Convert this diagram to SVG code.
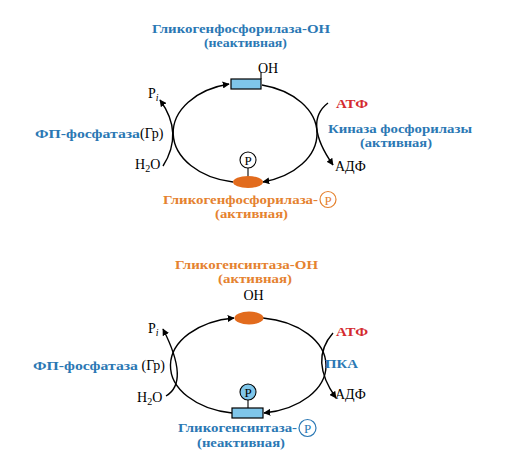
<svg xmlns="http://www.w3.org/2000/svg" width="530" height="470" viewBox="0 0 530 470">
<style>
.t{font-family:"Liberation Serif","DejaVu Serif","Times New Roman",serif;font-size:14px;fill:#000}
.b{font-weight:bold;font-size:12.5px}
.blue{fill:#2b78b4}
.or{fill:#e5822f}
.red{fill:#d42a2e}
.arc{fill:none;stroke:#000;stroke-width:1.4}
.rect{fill:#7fc6ea;stroke:#000;stroke-width:1.2}
.ell{fill:#e26b1d;stroke:none}
.pc{fill:#fff;stroke:#000;stroke-width:1.1}
.pcb{fill:#7fc6ea;stroke:#000;stroke-width:1.1}
.pt{font-family:"Liberation Serif","DejaVu Serif","Times New Roman",serif;font-size:13px;text-anchor:middle}
</style>
<defs>
<marker id="ah" viewBox="0 0 10 10" refX="9" refY="5" markerWidth="7" markerHeight="7" orient="auto" markerUnits="userSpaceOnUse">
<path d="M0,0 L10,5 L0,10 z" fill="#000"/>
</marker>
</defs>
<rect width="530" height="470" fill="#fff"/>

<g id="connectors">
<path class="arc" d="M233,182 A72,50 0 0 1 229,84" marker-end="url(#ah)"/>
<path class="arc" d="M262,85 A72,50 0 0 1 263,182" marker-end="url(#ah)"/>
<path class="arc" d="M163,166 Q184,133 160,100" marker-end="url(#ah)"/>
<path class="arc" d="M328,103 Q303,122 333,165" marker-end="url(#ah)"/>
<path class="arc" d="M232,413 A73,48 0 0 1 234,318" marker-end="url(#ah)"/>
<path class="arc" d="M263,318 A73,48 0 0 1 264,413" marker-end="url(#ah)"/>
<path class="arc" d="M166,396 Q190,382 163,329" marker-end="url(#ah)"/>
<path class="arc" d="M333,333 Q309,360 336,398" marker-end="url(#ah)"/>
</g>

<g id="node-phosphorylase-OH">
<text class="t b blue" x="152" y="33" textLength="178" lengthAdjust="spacingAndGlyphs">Гликогенфосфорилаза-ОН</text>
<text class="t b blue" x="204" y="47" textLength="83" lengthAdjust="spacingAndGlyphs">(неактивная)</text>
<rect class="rect" x="231" y="79" width="30" height="10"/>
<line x1="261" y1="79" x2="261" y2="72" stroke="#000" stroke-width="1.1"/>
<text class="t" x="268" y="73" text-anchor="middle">OH</text>
</g>

<g id="node-phosphorylase-P">
<circle class="pc" cx="248" cy="160" r="8"/>
<text class="pt" x="248" y="165">P</text>
<line x1="248" y1="168" x2="248" y2="177" stroke="#000" stroke-width="1.1"/>
<ellipse class="ell" cx="248" cy="182" rx="15" ry="6"/>
<text class="t b or" x="163" y="204" textLength="155" lengthAdjust="spacingAndGlyphs">Гликогенфосфорилаза-</text>
<circle cx="328" cy="199.5" r="8" fill="none" stroke="#e5822f" stroke-width="1.2"/>
<text class="pt or" x="328" y="204.5">P</text>
<text class="t b or" x="215" y="218" textLength="73" lengthAdjust="spacingAndGlyphs">(активная)</text>
</g>

<g id="node-phosphatase-top">
<text class="t" x="35" y="138"><tspan class="b blue" textLength="105" lengthAdjust="spacingAndGlyphs">ФП-фосфатаза</tspan>(Гр)</text>
<text class="t" x="148" y="98">P<tspan font-size="10" font-style="italic" dy="3">i</tspan></text>
<text class="t" x="135" y="169">H<tspan font-size="10" dy="3">2</tspan><tspan dy="-3">O</tspan></text>
</g>

<g id="node-kinase">
<text class="t b red" x="336" y="108" textLength="32" lengthAdjust="spacingAndGlyphs">АТФ</text>
<text class="t b blue" x="328" y="133" textLength="144" lengthAdjust="spacingAndGlyphs">Киназа фосфорилазы</text>
<text class="t b blue" x="360" y="147" textLength="72" lengthAdjust="spacingAndGlyphs">(активная)</text>
<text class="t" x="335" y="171">АДФ</text>
</g>

<g id="node-synthase-OH">
<text class="t b or" x="175" y="269" textLength="143" lengthAdjust="spacingAndGlyphs">Гликогенсинтаза-ОН</text>
<text class="t b or" x="218" y="283" textLength="74" lengthAdjust="spacingAndGlyphs">(активная)</text>
<text class="t" x="253.5" y="300" text-anchor="middle">OH</text>
<ellipse class="ell" cx="249" cy="318" rx="14.5" ry="6.5"/>
</g>

<g id="node-synthase-P">
<circle class="pcb" cx="248" cy="392" r="8"/>
<text class="pt" x="248" y="397">P</text>
<line x1="248" y1="400" x2="248" y2="408" stroke="#000" stroke-width="1.1"/>
<rect class="rect" x="232" y="408" width="31" height="10"/>
<text class="t b blue" x="178" y="432" textLength="119" lengthAdjust="spacingAndGlyphs">Гликогенсинтаза-</text>
<circle cx="307.5" cy="428" r="8.5" fill="none" stroke="#2b78b4" stroke-width="1.2"/>
<text class="pt blue" x="307.5" y="433">P</text>
<text class="t b blue" x="197" y="447" textLength="88" lengthAdjust="spacingAndGlyphs">(неактивная)</text>
</g>

<g id="node-phosphatase-bottom">
<text class="t" x="33" y="370"><tspan class="b blue" textLength="105" lengthAdjust="spacingAndGlyphs">ФП-фосфатаза</tspan> (Гр)</text>
<text class="t" x="148" y="333">P<tspan font-size="10" font-style="italic" dy="3">i</tspan></text>
<text class="t" x="137" y="402">H<tspan font-size="10" dy="3">2</tspan><tspan dy="-3">O</tspan></text>
</g>

<g id="node-PKA">
<text class="t b red" x="336" y="336" textLength="32" lengthAdjust="spacingAndGlyphs">АТФ</text>
<text class="t b blue" x="325" y="368" textLength="33" lengthAdjust="spacingAndGlyphs">ПКА</text>
<text class="t" x="335" y="399">АДФ</text>
</g>
</svg>
